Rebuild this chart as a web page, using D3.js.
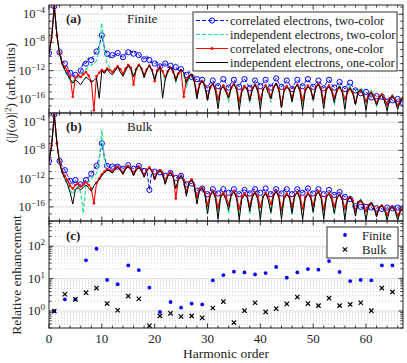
<!DOCTYPE html>
<html>
<head>
<meta charset="utf-8">
<script src="https://cdn.jsdelivr.net/npm/d3@7"></script>
<style>
body { margin: 0; background: #fff; }
text { font-family: "Liberation Serif", "DejaVu Serif", serif; fill: #222; }
</style>
</head>
<body>
<svg id="fig" width="407" height="363"></svg>
<script>
// sampling grid of the spectra (harmonic order, step 0.5)
const harmonics = d3.range(0, 67.001, 0.5);

// log10 of the spectra, panel (a) finite
const finiteCorTwo = [
  -9.5,-7.3,-2.9,-7.0,-9.4,-10.6,-11.0,-11.5,-12.3,-12.8,
  -12.6,-12.9,-12.0,-10.8,-11.0,-10.2,-10.5,-9.8,-9.3,-8.5,
  -7.0,-8.8,-9.6,-10.2,-9.8,-10.0,-9.5,-9.9,-10.1,-9.6,
  -9.4,-9.2,-9.6,-9.3,-9.8,-10.1,-10.4,-9.9,-10.5,-10.9,
  -11.0,-10.8,-11.4,-11.2,-11.0,-11.6,-11.3,-11.8,-11.5,-12.0,
  -11.8,-12.2,-12.6,-12.1,-12.9,-13.4,-13.2,-13.6,-13.3,-14.0,
  -14.5,-13.7,-13.4,-13.9,-14.2,-13.6,-13.2,-13.8,-14.4,-13.7,
  -13.3,-13.9,-14.3,-13.5,-13.2,-13.8,-14.5,-13.9,-13.4,-13.6,
  -14.2,-13.8,-13.3,-13.7,-14.4,-13.6,-13.1,-13.8,-14.3,-13.9,
  -13.4,-13.9,-14.6,-13.8,-13.3,-13.7,-14.2,-13.6,-13.2,-13.8,
  -14.3,-13.8,-13.4,-13.9,-14.5,-13.7,-13.3,-13.9,-14.4,-14.0,
  -13.6,-14.1,-14.6,-14.0,-13.7,-14.3,-14.8,-14.6,-15.2,-15.5,
  -15.0,-15.4,-15.8,-15.3,-15.6,-16.1,-15.7,-16.0,-16.4,-15.9,
  -16.2,-16.5,-16.0,-16.3,-16.6
];
const finiteIndTwo = [
  -9.6,-7.3,-2.9,-7.0,-9.7,-11.1,-12.0,-12.7,-13.4,-13.5,
  -13.2,-13.0,-12.6,-12.3,-11.8,-11.5,-11.2,-11.0,-10.6,-9.0,
  -5.2,-9.2,-11.0,-11.6,-12.2,-11.8,-11.3,-11.9,-12.5,-11.7,
  -11.2,-11.6,-12.6,-11.7,-11.1,-11.6,-12.8,-11.8,-11.2,-11.9,
  -13.0,-11.9,-11.4,-12.2,-13.4,-12.1,-11.6,-12.1,-13.6,-12.4,
  -12.0,-12.6,-14.2,-13.0,-12.7,-13.6,-15.8,-13.9,-13.3,-14.0,
  -16.4,-14.3,-13.8,-14.4,-16.7,-14.5,-14.0,-14.6,-16.5,-14.3,
  -13.8,-14.4,-16.8,-14.6,-14.1,-14.5,-16.6,-14.4,-13.9,-14.5,
  -16.9,-14.6,-14.0,-14.5,-16.5,-14.3,-13.8,-14.4,-16.7,-14.6,
  -14.1,-14.6,-16.6,-14.4,-13.9,-14.5,-16.9,-14.6,-14.0,-14.5,
  -16.4,-14.3,-13.8,-14.4,-16.7,-14.5,-14.0,-14.6,-16.8,-14.7,
  -14.1,-14.7,-16.6,-14.7,-14.2,-14.8,-16.9,-14.9,-14.4,-15.0,
  -16.8,-15.2,-14.8,-15.4,-17.0,-15.7,-15.2,-15.8,-17.2,-15.9,
  -15.4,-16.0,-17.3,-16.1,-15.6
];
const finiteCorOne = [
  -9.5,-7.3,-2.9,-7.0,-9.5,-11.0,-11.5,-12.0,-12.8,-15.7,
  -13.0,-12.6,-12.9,-12.5,-12.2,-12.7,-13.5,-17.6,-12.8,-12.3,
  -11.9,-12.1,-11.7,-11.9,-12.2,-11.8,-11.4,-11.8,-12.4,-11.7,
  -11.2,-11.6,-14.0,-11.8,-11.2,-11.7,-12.6,-11.8,-11.3,-11.9,
  -13.5,-12.0,-11.5,-12.1,-12.9,-12.1,-11.6,-12.2,-13.0,-12.4,
  -12.0,-15.7,-13.3,-12.8,-12.6,-13.4,-15.2,-13.9,-13.5,-14.1,
  -15.8,-14.4,-13.9,-14.5,-16.0,-14.6,-14.1,-14.7,-15.6,-14.4,
  -13.9,-14.5,-16.3,-14.7,-14.2,-14.6,-15.9,-14.5,-14.0,-14.6,
  -16.1,-14.7,-14.1,-14.6,-15.7,-14.4,-13.9,-14.5,-16.9,-14.7,
  -14.2,-14.7,-15.8,-14.5,-14.0,-14.6,-16.2,-14.7,-14.1,-14.6,
  -15.9,-14.4,-13.9,-14.5,-16.4,-14.6,-14.1,-14.7,-15.8,-14.8,
  -14.4,-14.9,-16.0,-15.0,-14.6,-15.1,-16.5,-15.2,-14.8,-15.4,
  -16.3,-15.5,-15.1,-15.6,-16.6,-15.7,-15.4,-15.9,-16.8,-15.9,
  -15.6,-16.1,-16.9,-16.2,-15.8
];
const finiteIndOne = [
  -9.6,-7.3,-2.9,-7.0,-9.6,-11.0,-11.9,-12.6,-13.2,-13.8,
  -13.3,-13.6,-14.0,-13.4,-12.9,-13.2,-13.6,-13.4,-13.0,-15.9,
  -12.0,-12.4,-11.8,-12.3,-12.6,-12.0,-11.5,-12.2,-12.8,-12.0,
  -11.3,-11.8,-12.9,-11.8,-11.2,-11.7,-13.0,-11.9,-11.3,-12.0,
  -13.3,-12.0,-11.5,-15.9,-13.2,-12.0,-11.5,-12.0,-13.5,-12.3,
  -11.8,-12.3,-13.8,-12.8,-12.5,-13.5,-16.0,-14.0,-13.5,-14.2,
  -16.2,-14.4,-13.8,-14.9,-17.4,-14.6,-14.3,-15.1,-15.9,-14.4,
  -13.9,-14.7,-17.6,-15.0,-14.4,-14.5,-16.3,-14.7,-14.0,-14.9,
  -17.5,-14.6,-14.2,-15.2,-16.0,-14.4,-13.8,-14.8,-17.3,-14.9,
  -14.4,-14.6,-16.4,-14.5,-14.0,-15.0,-17.6,-14.9,-14.3,-14.6,
  -16.1,-14.4,-13.9,-14.9,-17.4,-14.6,-14.3,-15.0,-16.5,-14.7,
  -14.2,-15.1,-17.5,-14.8,-14.4,-15.3,-16.8,-15.0,-14.7,-15.4,
  -17.6,-15.3,-15.1,-15.9,-16.9,-15.8,-15.5,-16.3,-17.7,-16.0,
  -15.6,-16.2,-17.5,-16.3,-15.8
];

// panel (b) bulk
const bulkCorTwo = [
  -9.5,-7.3,-2.9,-7.0,-9.5,-10.2,-10.8,-11.5,-12.3,-12.8,
  -12.2,-13.0,-12.8,-12.5,-12.2,-11.8,-11.3,-10.8,-10.2,-9.0,
  -7.0,-9.0,-10.2,-10.5,-10.3,-10.1,-10.3,-10.2,-10.6,-10.3,
  -10.1,-10.4,-10.6,-10.3,-10.2,-10.5,-10.9,-10.6,-13.6,-10.8,
  -11.0,-10.9,-11.1,-11.3,-11.6,-11.4,-11.2,-11.5,-11.9,-11.7,
  -11.6,-12.0,-12.8,-12.6,-12.7,-13.2,-13.7,-13.5,-13.4,-13.8,
  -14.2,-13.7,-13.5,-13.9,-14.1,-13.6,-13.5,-13.8,-14.0,-13.7,
  -13.5,-13.9,-14.2,-13.7,-13.6,-13.8,-14.1,-13.6,-13.5,-13.8,
  -14.0,-13.7,-13.4,-13.8,-14.2,-13.7,-13.5,-13.9,-14.1,-13.6,
  -13.5,-13.8,-14.2,-13.7,-13.5,-13.9,-14.0,-13.6,-13.4,-13.8,
  -14.1,-13.7,-13.5,-13.8,-14.2,-13.8,-13.6,-14.0,-14.3,-14.1,
  -13.9,-14.3,-14.6,-14.5,-14.9,-15.4,-15.9,-15.8,-16.0,-16.2,
  -16.0,-16.3,-16.1,-16.4,-16.2,-16.0,-16.3,-16.4,-16.1,-16.3,
  -16.2,-16.4,-16.1,-16.3,-16.2
];
const bulkIndTwo = [
  -9.6,-7.3,-2.9,-7.0,-9.8,-11.1,-11.9,-12.6,-13.6,-14.2,
  -13.4,-13.1,-14.0,-16.9,-12.8,-12.5,-12.0,-11.6,-11.3,-9.5,
  -5.1,-9.4,-10.9,-11.0,-11.1,-10.6,-10.3,-10.7,-11.2,-10.5,
  -10.2,-10.6,-11.4,-10.7,-10.3,-10.8,-11.6,-10.8,-10.4,-10.9,
  -12.0,-11.1,-10.8,-11.3,-12.6,-11.5,-11.1,-11.7,-13.2,-12.0,
  -11.5,-12.2,-14.2,-12.5,-12.1,-12.9,-15.3,-13.5,-13.3,-14.1,
  -16.9,-14.3,-13.8,-14.4,-17.2,-14.5,-14.0,-14.6,-17.0,-14.3,
  -13.8,-14.4,-17.3,-14.6,-14.1,-14.5,-17.1,-14.4,-13.9,-14.5,
  -17.2,-14.6,-14.0,-14.5,-17.0,-14.3,-13.8,-14.4,-17.3,-14.6,
  -14.1,-14.6,-17.1,-14.4,-13.9,-14.5,-17.2,-14.6,-14.0,-14.5,
  -17.0,-14.3,-13.8,-14.4,-17.3,-14.5,-14.0,-14.6,-17.1,-14.7,
  -14.2,-14.8,-17.2,-14.9,-14.5,-15.1,-17.3,-15.3,-14.9,-15.5,
  -17.4,-15.7,-15.3,-15.9,-17.5,-16.1,-15.7,-16.2,-17.6,-16.3,
  -15.9,-16.4,-17.7,-16.5,-16.1
];
const bulkCorOne = [
  -9.5,-7.3,-2.9,-7.0,-9.6,-11.0,-11.6,-12.2,-13.0,-13.4,
  -12.9,-12.7,-13.1,-12.8,-12.5,-12.9,-13.4,-15.5,-12.6,-12.0,
  -11.4,-11.0,-10.7,-10.8,-11.0,-10.6,-10.3,-10.7,-11.2,-10.5,
  -10.2,-10.6,-11.3,-10.7,-10.3,-10.8,-11.5,-10.8,-10.4,-10.9,
  -11.9,-11.1,-10.8,-11.2,-12.4,-11.5,-11.1,-11.6,-14.8,-12.0,
  -11.6,-12.2,-13.9,-12.5,-12.1,-12.9,-14.6,-13.5,-13.3,-13.9,
  -15.8,-14.2,-13.8,-14.3,-16.1,-14.4,-14.0,-14.5,-15.7,-14.3,
  -13.8,-14.4,-16.3,-14.5,-14.1,-14.5,-15.9,-14.4,-13.9,-14.5,
  -16.0,-14.6,-14.0,-14.5,-15.6,-14.3,-13.8,-14.4,-16.4,-14.6,
  -14.1,-14.6,-15.9,-14.4,-13.9,-14.5,-16.2,-14.6,-14.0,-14.5,
  -15.8,-14.3,-13.8,-14.4,-16.3,-14.5,-14.0,-14.6,-15.9,-14.7,
  -14.3,-14.8,-16.2,-14.9,-14.6,-15.1,-16.6,-15.4,-15.2,-15.6,
  -16.6,-15.8,-15.5,-16.0,-17.0,-16.1,-15.8,-16.2,-17.1,-16.3,
  -16.0,-16.4,-17.2,-16.5,-16.2
];
const bulkIndOne = [
  -9.6,-7.3,-2.9,-7.0,-9.8,-11.2,-12.0,-12.8,-14.0,-15.6,
  -13.5,-13.3,-13.6,-13.2,-12.9,-13.3,-13.8,-13.0,-12.5,-12.2,
  -11.5,-11.2,-10.8,-10.9,-11.2,-10.7,-10.4,-10.8,-11.4,-10.6,
  -10.3,-10.7,-11.6,-10.8,-10.4,-10.9,-11.8,-10.9,-10.5,-11.0,
  -12.2,-11.2,-10.9,-11.4,-12.8,-11.6,-11.2,-11.8,-13.4,-12.1,
  -11.6,-12.3,-14.5,-12.6,-12.2,-13.0,-15.6,-13.6,-13.4,-14.2,
  -17.0,-14.5,-13.8,-14.8,-17.7,-14.5,-14.2,-15.0,-16.4,-14.3,
  -13.9,-14.8,-17.8,-14.9,-14.3,-14.6,-16.6,-14.6,-14.0,-14.9,
  -17.8,-14.6,-14.1,-15.0,-16.8,-14.4,-13.8,-14.7,-17.7,-14.8,
  -14.3,-14.6,-16.9,-14.4,-14.0,-14.9,-17.8,-14.8,-14.2,-14.6,
  -16.7,-14.3,-13.9,-14.8,-17.7,-14.6,-14.2,-15.0,-16.9,-14.7,
  -14.3,-15.0,-17.8,-15.0,-14.6,-15.3,-17.3,-15.3,-15.0,-15.7,
  -17.9,-15.7,-15.4,-16.1,-17.4,-16.1,-15.8,-16.4,-17.9,-16.3,
  -16.0,-16.5,-17.9,-16.6,-16.2
];

// panel (c) relative enhancement at odd harmonics
const enhOrders = [1,3,5,7,9,11,13,15,17,19,21,23,25,27,29,31,33,35,37,39,41,43,45,47,49,51,53,55,57,59,61,63,65];
const finiteEnh = [1.0,2.3,2.3,36.6,83.6,9.1,6.7,25.6,18.4,5.3,0.94,1.9,1.28,1.7,1.6,8.9,12.9,16.4,15.5,13.5,14.8,23,10.7,15.5,19.7,18.9,34.8,16,8.4,9.1,8.9,25.6,25.6];
const bulkEnh = [1.0,3.3,2.3,3.7,5.1,1.7,1.06,2.9,2.4,0.35,0.71,0.85,0.68,0.71,0.62,1.24,1.96,0.44,1.03,1.8,0.94,1.19,1.66,2.7,1.7,1.47,2.5,1.47,1.6,1.8,1.03,5.1,3.9];

const specLabels = ["correlated electrons, two-color", "independent electrons, two-color",
                    "correlated electrons, one-color", "independent electrons, one-color"];
const xTicks = [0, 10, 20, 30, 40, 50, 60];
const specTickExp = [-4, -8, -12, -16];
const enhTickExp = [0, 1, 2];

const left = 49, right = 403;
const blue = "#0000ff", green = "#1fe08a", red = "#ff0000";
const svg = d3.select("#fig");
const x = d3.scaleLinear().domain([0, 67]).range([left, right]);

function pow_label(g, xpos, ypos, exp, size) {
    let t = g.append("text")
        .attr("x", xpos).attr("y", ypos + 4)
        .attr("text-anchor", "end")
        .style("font-size", size + "px");
    t.append("tspan").text("10");
    t.append("tspan").attr("dy", -5).style("font-size", (size * 0.72) + "px")
        .text(String(exp).replace("-", "\u2212"));
}

function add_x_ticks(g, top, bottom) {
    let minor = d3.range(0, 67, 2);
    [[bottom, -1], [top, 1]].forEach(([yy, dir]) => {
        g.selectAll(null).data(minor).enter().append("line")
            .attr("x1", d => x(d)).attr("x2", d => x(d))
            .attr("y1", yy).attr("y2", d => yy + dir * (d % 10 === 0 ? 4.5 : 2.5))
            .attr("stroke", "#222").attr("stroke-width", 0.9);
    });
}

function add_frame(g, top, bottom) {
    g.append("rect").attr("x", left).attr("y", top)
        .attr("width", right - left).attr("height", bottom - top)
        .attr("fill", "none").attr("stroke", "#222").attr("stroke-width", 1);
}

function add_spectrum(id, top, bottom, data, tag, name) {
    let y = d3.scaleLog().domain([1e-18, Math.pow(10, -2.7)]).range([bottom, top]);
    let g = svg.append("g");
    svg.append("clipPath").attr("id", "clip" + id).append("rect")
        .attr("x", left).attr("y", top).attr("width", right - left).attr("height", bottom - top);

    let decades = d3.range(-17, -2);
    g.selectAll(null).data(decades).enter().append("line")
        .attr("x1", left).attr("x2", right)
        .attr("y1", d => y(Math.pow(10, d))).attr("y2", d => y(Math.pow(10, d)))
        .attr("stroke", d => d % 4 === 0 ? "#dcdcdc" : "#b8b8b8")
        .attr("stroke-width", d => d % 4 === 0 ? 1 : 0.7)
        .attr("stroke-dasharray", d => d % 4 === 0 ? null : "1,2");

    let plot = g.append("g").attr("clip-path", `url(#clip${id})`);
    let line = d3.line().x((d, i) => x(harmonics[i])).y(d => y(Math.pow(10, d)));

    // correlated, two-colour: circle markers on the whole harmonics
    plot.append("path").datum(data[0]).attr("d", line)
        .attr("fill", "none").attr("stroke", blue).attr("stroke-width", 1)
        .attr("stroke-dasharray", "4,2");
    plot.selectAll(null).data(data[0].filter((d, i) => i % 2 === 0)).enter().append("circle")
        .attr("cx", (d, i) => x(harmonics[i * 2])).attr("cy", d => y(Math.pow(10, d)))
        .attr("r", 2.6).attr("fill", "none").attr("stroke", blue).attr("stroke-width", 1);
    // independent, two-colour
    plot.append("path").datum(data[1]).attr("d", line)
        .attr("fill", "none").attr("stroke", green).attr("stroke-width", 1.2)
        .attr("stroke-dasharray", "4,2");
    // correlated, one-colour
    plot.append("path").datum(data[2]).attr("d", line)
        .attr("fill", "none").attr("stroke", red).attr("stroke-width", 1.1);
    plot.selectAll(null).data(data[2]).enter().append("circle")
        .attr("cx", (d, i) => x(harmonics[i])).attr("cy", d => y(Math.pow(10, d)))
        .attr("r", 1.3).attr("fill", red);
    // independent, one-colour
    plot.append("path").datum(data[3]).attr("d", line)
        .attr("fill", "none").attr("stroke", "#000").attr("stroke-width", 1);

    // y ticks, both sides
    [[left, 1], [right, -1]].forEach(([xx, dir]) => {
        g.selectAll(null).data(decades).enter().append("line")
            .attr("x1", xx).attr("x2", d => xx + dir * (d % 4 === 0 ? 4.5 : 2.5))
            .attr("y1", d => y(Math.pow(10, d))).attr("y2", d => y(Math.pow(10, d)))
            .attr("stroke", "#222").attr("stroke-width", 0.9);
    });
    specTickExp.forEach(e => pow_label(g, left - 4, y(Math.pow(10, e)), e, 12.5));

    add_x_ticks(g, top, bottom);
    add_frame(g, top, bottom);

    g.append("text").attr("x", 66).attr("y", top + 18)
        .style("font-size", "13px").style("font-weight", "bold").text(tag);
    g.append("text").attr("x", 127).attr("y", top + 18)
        .style("font-size", "13px").text(name);
    return g;
}

add_spectrum("a", 5, 113, [finiteCorTwo, finiteIndTwo, finiteCorOne, finiteIndOne], "(a)", "Finite");
add_spectrum("b", 113, 221, [bulkCorTwo, bulkIndTwo, bulkCorOne, bulkIndOne], "(b)", "Bulk");

// legend of the spectra
let leg = svg.append("g");
leg.append("rect").attr("x", 193).attr("y", 12).attr("width", 204).attr("height", 59)
    .attr("fill", "#fff").attr("stroke", "#333").attr("stroke-width", 1);
let legY = d3.scalePoint().domain(specLabels).range([20.5, 62.5]);
specLabels.forEach((lab, i) => {
    let yy = legY(lab);
    let col = [blue, green, red, "#000"][i];
    leg.append("line").attr("x1", 196).attr("x2", 228).attr("y1", yy).attr("y2", yy)
        .attr("stroke", col).attr("stroke-width", i === 1 ? 1.2 : 1)
        .attr("stroke-dasharray", i < 2 ? "4,2" : null);
    if (i === 0) leg.append("circle").attr("cx", 212).attr("cy", yy).attr("r", 2.6)
        .attr("fill", "none").attr("stroke", blue).attr("stroke-width", 1);
    if (i === 2) leg.append("circle").attr("cx", 212).attr("cy", yy).attr("r", 1.5).attr("fill", red);
    leg.append("text").attr("x", 230).attr("y", yy + 4).style("font-size", "12.6px").text(lab);
});

// panel (c)
const cTop = 221, cBottom = 328;
const yc = d3.scaleLog().domain([0.3, 600]).range([cBottom, cTop]);
let gc = svg.append("g");
let minorVals = [];
[0.1, 1, 10, 100].forEach(b => d3.range(1, 10).forEach(k => {
    let v = b * k;
    if (v >= 0.3 && v <= 600) minorVals.push(v);
}));
gc.selectAll(null).data(minorVals).enter().append("line")
    .attr("x1", left).attr("x2", right)
    .attr("y1", d => yc(d)).attr("y2", d => yc(d))
    .attr("stroke", d => [1, 10, 100].includes(d) ? "#dcdcdc" : "#bdbdbd")
    .attr("stroke-width", d => [1, 10, 100].includes(d) ? 1 : 0.7)
    .attr("stroke-dasharray", d => [1, 10, 100].includes(d) ? null : "1,2");
[[left, 1], [right, -1]].forEach(([xx, dir]) => {
    gc.selectAll(null).data(minorVals).enter().append("line")
        .attr("x1", xx).attr("x2", d => xx + dir * ([1, 10, 100].includes(d) ? 4.5 : 2.5))
        .attr("y1", d => yc(d)).attr("y2", d => yc(d))
        .attr("stroke", "#222").attr("stroke-width", 0.9);
});
enhTickExp.forEach(e => pow_label(gc, left - 4, yc(Math.pow(10, e)), e, 12.5));
add_x_ticks(gc, cTop, cBottom);

gc.selectAll(null).data(finiteEnh).enter().append("circle")
    .attr("cx", (d, i) => x(enhOrders[i])).attr("cy", d => yc(d))
    .attr("r", 1.9).attr("fill", blue);
let cross = d3.symbol().type(d3.symbolX).size(14);
gc.selectAll(null).data(bulkEnh).enter().append("path")
    .attr("d", cross)
    .attr("transform", (d, i) => `translate(${x(enhOrders[i])},${yc(d)})`)
    .attr("fill", "none").attr("stroke", "#000").attr("stroke-width", 1.2);
add_frame(gc, cTop, cBottom);
gc.append("text").attr("x", 66).attr("y", cTop + 19)
    .style("font-size", "13px").style("font-weight", "bold").text("(c)");

let legc = svg.append("g");
legc.append("rect").attr("x", 327).attr("y", 227).attr("width", 71).attr("height", 31)
    .attr("fill", "#fff").attr("stroke", "#333").attr("stroke-width", 1);
legc.append("circle").attr("cx", 345).attr("cy", 235).attr("r", 1.9).attr("fill", blue);
legc.append("path").attr("d", cross).attr("transform", "translate(345,249.5)")
    .attr("fill", "none").attr("stroke", "#000").attr("stroke-width", 1.2);
legc.append("text").attr("x", 362).attr("y", 239.5).style("font-size", "12.6px").text("Finite");
legc.append("text").attr("x", 362).attr("y", 253.5).style("font-size", "12.6px").text("Bulk");

// x tick labels and titles
svg.selectAll(null).data(xTicks).enter().append("text")
    .attr("x", d => x(d)).attr("y", 343)
    .attr("text-anchor", "middle").style("font-size", "13px").text(d => d);
svg.append("text").attr("x", x(33.5)).attr("y", 358)
    .attr("text-anchor", "middle").style("font-size", "13.5px").text("Harmonic order");

let yl = svg.append("text").attr("transform", "translate(15,93) rotate(-90)")
    .attr("text-anchor", "middle").style("font-size", "13px");
yl.append("tspan").text("(|");
yl.append("tspan").style("font-style", "italic").text("j");
yl.append("tspan").text("(");
yl.append("tspan").style("font-style", "italic").text("ω");
yl.append("tspan").text(")|");
yl.append("tspan").attr("dy", -4).style("font-size", "9px").text("2");
yl.append("tspan").attr("dy", 4).text(") (arb. units)");

svg.append("text").attr("transform", "translate(21,275) rotate(-90)")
    .attr("text-anchor", "middle").style("font-size", "13.5px").text("Relative enhancement");
</script>
</body>
</html>
